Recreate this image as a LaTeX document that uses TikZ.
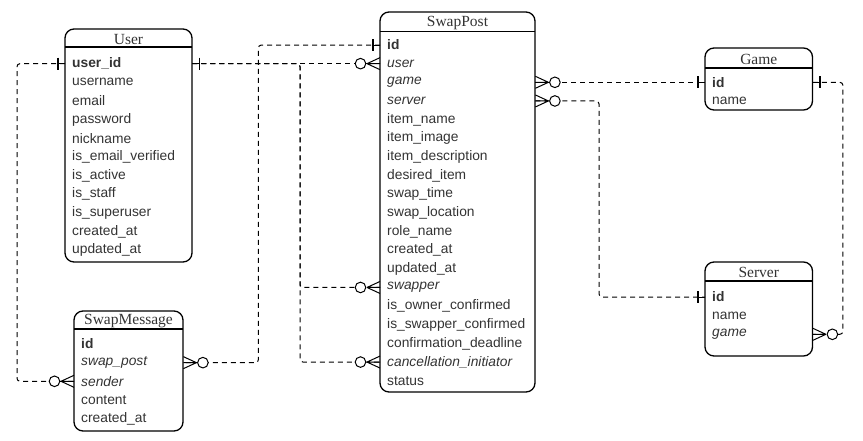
\documentclass[tikz,border=0pt]{standalone}
\usepackage{fontspec}
\setmainfont{Liberation Serif}
\setsansfont{Liberation Sans}
\definecolor{inktext}{HTML}{333333}
\begin{document}
\begin{tikzpicture}[x=1pt,y=-1pt,
  frame/.style={draw=black, line width=1.3pt, rounded corners=9pt},
  rule/.style={draw=black, line width=1.1pt},
  title/.style={font=\rmfamily\fontsize{15.5}{16}\selectfont, text=inktext, inner sep=0pt},
  field/.style={font=\sffamily\fontsize{13.8}{15}\selectfont, text=inktext, anchor=west,
    inner xsep=7pt, inner ysep=0pt, minimum height=18pt, align=left},
  pk/.style={field, font=\sffamily\bfseries\fontsize{13.8}{15}\selectfont},
  fk/.style={field, font=\sffamily\itshape\fontsize{13.8}{15}\selectfont},
  colw/.style={text width=#1pt},
  conn/.style={draw=black, line width=1pt, dash pattern=on 5pt off 4pt, rounded corners=3pt},
  zmany/.pic={
    \draw[line width=1pt] (-13,0) -- (0,-6) (-13,0) -- (0,6) (-13,0) -- (0,0);
    \draw[line width=1pt, fill=white] (-19.5,0) circle[radius=5.3pt];
  },
  onemark/.pic={
    \draw[line width=1pt] (-7,0) -- (0,0);
    \draw[line width=1.3pt] (-7,-6) -- (-7,6);
  }
]
\useasboundingbox (0,0) rectangle (863,440);

% table outline: name, left, top, right, header rule, bottom, title
\newcommand\entity[7]{%
  \draw[frame] (#2,#3) rectangle (#4,#6);
  \draw[rule] (#2,#5) -- (#4,#5);
  \node[title] (#1) at ({(#2+#4)/2},{(#3+#5)/2+1}) {#7};
}

% ---------- User ----------
\entity{user}{65}{29}{192}{47}{262}{User}
\begin{scope}[every node/.append style={colw=113}]
\node[pk]    (u-id)   at (65,63.65)  {user\_id};
\node[field] (u-name) at (65,82.3)   {username};
\node[field] (u-mail) at (65,100.95) {email};
\node[field] (u-pass) at (65,119.6)  {password};
\node[field] (u-nick) at (65,138.25) {nickname};
\node[field] (u-ver)  at (65,156.9)  {is\_email\_verified};
\node[field] (u-act)  at (65,175.55) {is\_active};
\node[field] (u-stf)  at (65,194.2)  {is\_staff};
\node[field] (u-sup)  at (65,212.85) {is\_superuser};
\node[field] (u-cre)  at (65,231.5)  {created\_at};
\node[field] (u-upd)  at (65,250.15) {updated\_at};
\end{scope}

% ---------- SwapPost ----------
\entity{swappost}{380}{12}{535}{31.5}{392}{SwapPost}
\begin{scope}[every node/.append style={colw=141}]
\node[pk]    (sp-id)     at (380,45)     {id};
\node[fk]    (sp-user)   at (380,63.65)  {user};
\node[fk]    (sp-game)   at (380,82.3)   {game};
\node[fk]    (sp-server) at (380,100.95) {server};
\node[field] (sp-iname)  at (380,119.6)  {item\_name};
\node[field] (sp-iimg)   at (380,138.25) {item\_image};
\node[field] (sp-idesc)  at (380,156.9)  {item\_description};
\node[field] (sp-des)    at (380,175.55) {desired\_item};
\node[field] (sp-time)   at (380,194.2)  {swap\_time};
\node[field] (sp-loc)    at (380,212.85) {swap\_location};
\node[field] (sp-role)   at (380,231.5)  {role\_name};
\node[field] (sp-cre)    at (380,250.15) {created\_at};
\node[field] (sp-upd)    at (380,268.8)  {updated\_at};
\node[fk]    (sp-swapper) at (380,287.45) {swapper};
\node[field] (sp-oconf)  at (380,306.1)  {is\_owner\_confirmed};
\node[field] (sp-sconf)  at (380,324.75) {is\_swapper\_confirmed};
\node[field] (sp-dead)   at (380,343.4)  {confirmation\_deadline};
\node[fk]    (sp-cancel) at (380,362.05) {cancellation\_initiator};
\node[field] (sp-status) at (380,380.7)  {status};
\end{scope}

% ---------- Game ----------
\entity{game}{705}{48}{812.5}{68}{110}{Game}
\begin{scope}[every node/.append style={colw=93.5}]
\node[pk]    (g-id)   at (705,82.3)   {id};
\node[field] (g-name) at (705,100.95) {name};
\end{scope}

% ---------- Server ----------
\entity{server}{705}{262}{812.5}{281}{356}{Server}
\begin{scope}[every node/.append style={colw=93.5}]
\node[pk]    (sv-id)   at (705,297)    {id};
\node[field] (sv-name) at (705,315.65) {name};
\node[fk]    (sv-game) at (705,334.3)  {game};
\end{scope}

% ---------- SwapMessage ----------
\entity{swapmessage}{74}{311}{183}{329}{431}{SwapMessage}
\begin{scope}[every node/.append style={colw=95}]
\node[pk]    (sm-id)     at (74,344)    {id};
\node[fk]    (sm-swap)   at (74,362.65) {swap\_post};
\node[fk]    (sm-sender) at (74,381.3)  {sender};
\node[field] (sm-cont)   at (74,399.95) {content};
\node[field] (sm-cre)    at (74,418.6)  {created\_at};
\end{scope}

% ---------- relationships ----------
\draw[conn] (u-id.east) -- (sp-user.west);
\draw[conn] (u-id.east) -| ([xshift=-80pt]sp-swapper.west) -- (sp-swapper.west);
\draw[conn] (u-id.east) -| ([xshift=-80pt]sp-cancel.west) -- (sp-cancel.west);
\draw[conn] (u-id.west) -| ([xshift=-57pt]sm-sender.west) -- (sm-sender.west);
\draw[conn] (sp-id.west) -| ([xshift=75pt]sm-swap.east) -- (sm-swap.east);
\draw[conn] (sp-game.east) -- (g-id.west);
\draw[conn] (sp-server.east) -| ([xshift=-106pt]sv-id.west) -- (sv-id.west);
\draw[conn] (g-id.east) -| ([xshift=30pt]sv-game.east) -- (sv-game.east);

% cardinality marks
\pic[xscale=-1] at (u-id.east) {onemark};
\pic at (u-id.west) {onemark};
\pic at (sp-id.west) {onemark};
\pic at (g-id.west) {onemark};
\pic[xscale=-1] at (g-id.east) {onemark};
\pic at (sv-id.west) {onemark};
\pic at (sp-user.west) {zmany};
\pic at (sp-swapper.west) {zmany};
\pic at (sp-cancel.west) {zmany};
\pic at (sm-sender.west) {zmany};
\pic[xscale=-1] at (sm-swap.east) {zmany};
\pic[xscale=-1] at (sp-game.east) {zmany};
\pic[xscale=-1] at (sp-server.east) {zmany};
\pic[xscale=-1] at (sv-game.east) {zmany};
\end{tikzpicture}
\end{document}
